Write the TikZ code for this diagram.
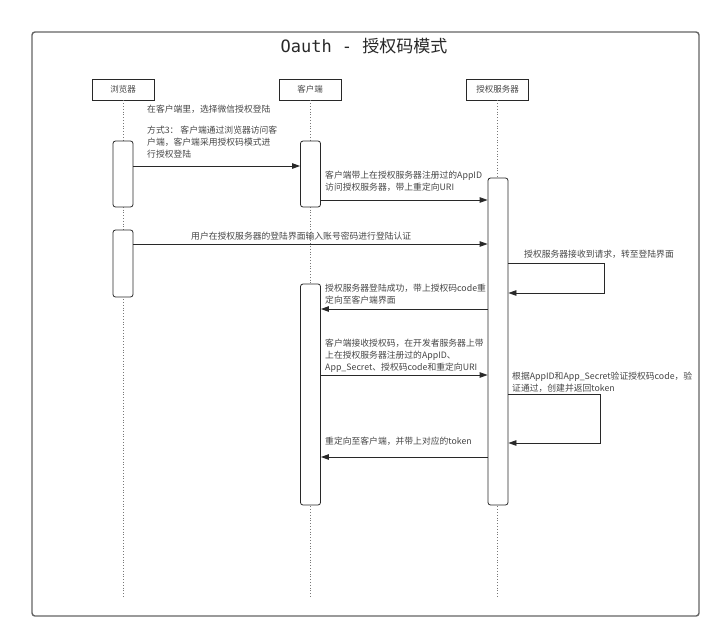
\documentclass[tikz,border=0pt]{standalone}
\usepackage{fontspec}
\setmainfont{Noto Sans CJK SC}
\newfontfamily\titlemono{DejaVu Sans Mono}
\usepackage{xcolor}
\usepackage{tikz}
\usetikzlibrary{arrows.meta, positioning, calc}
\definecolor{framegray}{RGB}{100, 100, 100}
\definecolor{linecol}{RGB}{40, 40, 40}
\definecolor{textcol}{RGB}{70, 70, 70}
\definecolor{lifecol}{RGB}{120, 120, 120}

\begin{document}
\begin{tikzpicture}[
    x=1pt, y=-1pt,
    >={Triangle[length=8pt, width=5.5pt]},
    font=\fontsize{8.8}{12}\selectfont,
    framebox/.style={draw=framegray, line width=1.4pt, rounded corners=3pt},
    actor/.style={rectangle, draw=linecol, line width=0.8pt,
                  minimum width=62pt, minimum height=21pt, inner sep=0pt,
                  text=textcol, font=\fontsize{8.5}{10}\selectfont},
    lifeline/.style={draw=lifecol, line width=0.8pt, dotted},
    activation/.style={rectangle, rounded corners=2.5pt, draw=linecol,
                       fill=white, line width=0.8pt,
                       minimum width=20pt, inner sep=0pt},
    msg/.style={->, draw=linecol, line width=0.8pt},
    msgtext/.style={anchor=north west, inner sep=0pt, align=left, text=textcol},
]
\useasboundingbox (0,0) rectangle (720,638);

% ============================================================
% FRAME AND TITLE
% ============================================================
\draw[framebox] (32,32) rectangle (699,616);
\node[font=\fontsize{17}{20}\selectfont, text=linecol] (title) at (364,46)
    {{\titlemono Oauth - }授权码模式};

% ============================================================
% PARTICIPANTS AND LIFELINES
% ============================================================
\node[actor] (browser) at (123,89.5) {浏览器};
\node[actor] (client) at (310,89.5) {客户端};
\node[actor] (server) at (497.5,89.5) {授权服务器};

\coordinate (lifeend) at (0,598);
\draw[lifeline] (browser.south) -- (browser.south |- lifeend);
\draw[lifeline] (client.south) -- (client.south |- lifeend);
\draw[lifeline] (server.south) -- (server.south |- lifeend);

% ============================================================
% ACTIVATIONS
% ============================================================
\node[activation, minimum height=66pt] (bact1) at (123,174) {};
\node[activation, minimum height=67pt] (bact2) at (123,263.5) {};
\node[activation, minimum height=66pt] (cact1) at (310.5,174) {};
\node[activation, minimum height=221pt] (cact2) at (310.5,394.5) {};
\node[activation, minimum height=327pt] (sact) at (498,341.5) {};

% ============================================================
% MESSAGES
% ============================================================
\node[msgtext] (note1) at (147,105) {在客户端里，选择微信授权登陆\\[9pt]%
    方式3： 客户端通过浏览器访问客\\户端，客户端采用授权码模式进\\行授权登陆};
\coordinate (m1) at (0,166);
\draw[msg] (bact1.east |- m1) -- (cact1.west |- m1);

\node[msgtext] (note2) at (325,171) {客户端带上在授权服务器注册过的AppID\\%
    访问授权服务器，带上重定向URI};
\coordinate (m2) at (0,200);
\draw[msg] (cact1.east |- m2) -- (sact.west |- m2);

\node[msgtext] (note3) at (191,232) {用户在授权服务器的登陆界面输入账号密码进行登陆认证};
\coordinate (m3) at (0,244);
\draw[msg] (bact2.east |- m3) -- (sact.west |- m3);

% self call: login page
\node[msgtext] (note4) at (524,250) {授权服务器接收到请求，转至登陆界面};
\coordinate (loop1top) at (604,263);
\coordinate (loop1bot) at (604,293);
\draw[msg] (sact.east |- loop1top) -- (loop1top) -- (loop1bot) -- (sact.east |- loop1bot);

\node[msgtext] (note5) at (325,284) {授权服务器登陆成功，带上授权码code重\\定向至客户端界面};
\coordinate (m4) at (0,309);
\draw[msg] (sact.west |- m4) -- (cact2.east |- m4);

\node[msgtext] (note6) at (325,339) {客户端接收授权码，在开发者服务器上带\\%
    上在授权服务器注册过的AppID、\\App\_Secret、授权码code和重定向URI};
\coordinate (m5) at (0,375);
\draw[msg] (cact2.east |- m5) -- (sact.west |- m5);

% self call: token
\node[msgtext] (note7) at (512,372) {根据AppID和App\_Secret验证授权码code，验\\%
    证通过，创建并返回token};
\coordinate (loop2top) at (600,394);
\coordinate (loop2bot) at (600,443);
\draw[msg] (sact.east |- loop2top) -- (loop2top) -- (loop2bot) -- (sact.east |- loop2bot);

\node[msgtext] (note8) at (325,437) {重定向至客户端，并带上对应的token};
\coordinate (m6) at (0,457);
\draw[msg] (sact.west |- m6) -- (cact2.east |- m6);

\end{tikzpicture}
\end{document}
